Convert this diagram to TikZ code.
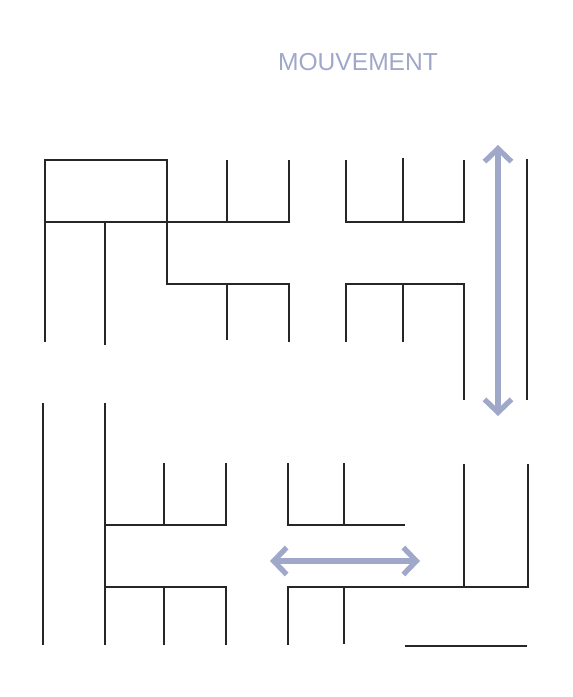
\documentclass[tikz,border=0pt]{standalone}
\usepackage{fontspec}
\setsansfont{Liberation Sans}
\usetikzlibrary{arrows.meta}

\definecolor{bleugris}{RGB}{160,168,202}

\begin{document}
\begin{tikzpicture}[
        x=0.02cm, y=-0.02cm,
        mur/.style={draw, line width=1.1pt, black!85},
        fleche/.style={{Straight Barb[length=2.6mm, width=5.4mm]}-{Straight Barb[length=2.6mm, width=5.4mm]}, line width=3pt, bleugris, line cap=round, line join=round},
        titre/.style={font=\sffamily\fontsize{14}{16}\selectfont, text=bleugris}
    ]
        \useasboundingbox (0,0) rectangle (573,697);

        \node[titre] (titre) at (358,62) {MOUVEMENT};

        % bloc en haut a gauche
        \draw[mur] (45,342) -- (45,160) -- (167,160) -- (167,284) -- (289,284) -- (289,342);
        \draw[mur] (45,222) -- (289,222) -- (289,160);
        \draw[mur] (105,222) -- (105,345);
        \draw[mur] (227,160) -- (227,222);
        \draw[mur] (227,284) -- (227,340);

        % bloc en haut a droite
        \draw[mur] (346,160) -- (346,222) -- (464,222) -- (464,160);
        \draw[mur] (403,158) -- (403,222);
        \draw[mur] (346,342) -- (346,284) -- (464,284) -- (464,400);
        \draw[mur] (403,284) -- (403,342);
        \draw[mur] (527,159) -- (527,400);

        % bloc en bas a gauche
        \draw[mur] (43,403) -- (43,645);
        \draw[mur] (105,403) -- (105,645);
        \draw[mur] (105,525) -- (226,525) -- (226,463);
        \draw[mur] (164,463) -- (164,525);
        \draw[mur] (105,587) -- (226,587) -- (226,645);
        \draw[mur] (164,587) -- (164,645);

        % bloc en bas a droite
        \draw[mur] (288,463) -- (288,525) -- (405,525);
        \draw[mur] (344,463) -- (344,525);
        \draw[mur] (288,645) -- (288,587) -- (528,587) -- (528,464);
        \draw[mur] (464,464) -- (464,587);
        \draw[mur] (344,587) -- (344,644);
        \draw[mur] (405,646) -- (527,646);

        % mouvements
        \coordinate (haut) at (498,145);
        \coordinate (bas) at (498,416);
        \coordinate (gauche) at (270,561);
        \coordinate (droite) at (420,561);
        \draw[fleche] (haut) -- (bas);
        \draw[fleche] (gauche) -- (droite);
    \end{tikzpicture}
\end{document}
